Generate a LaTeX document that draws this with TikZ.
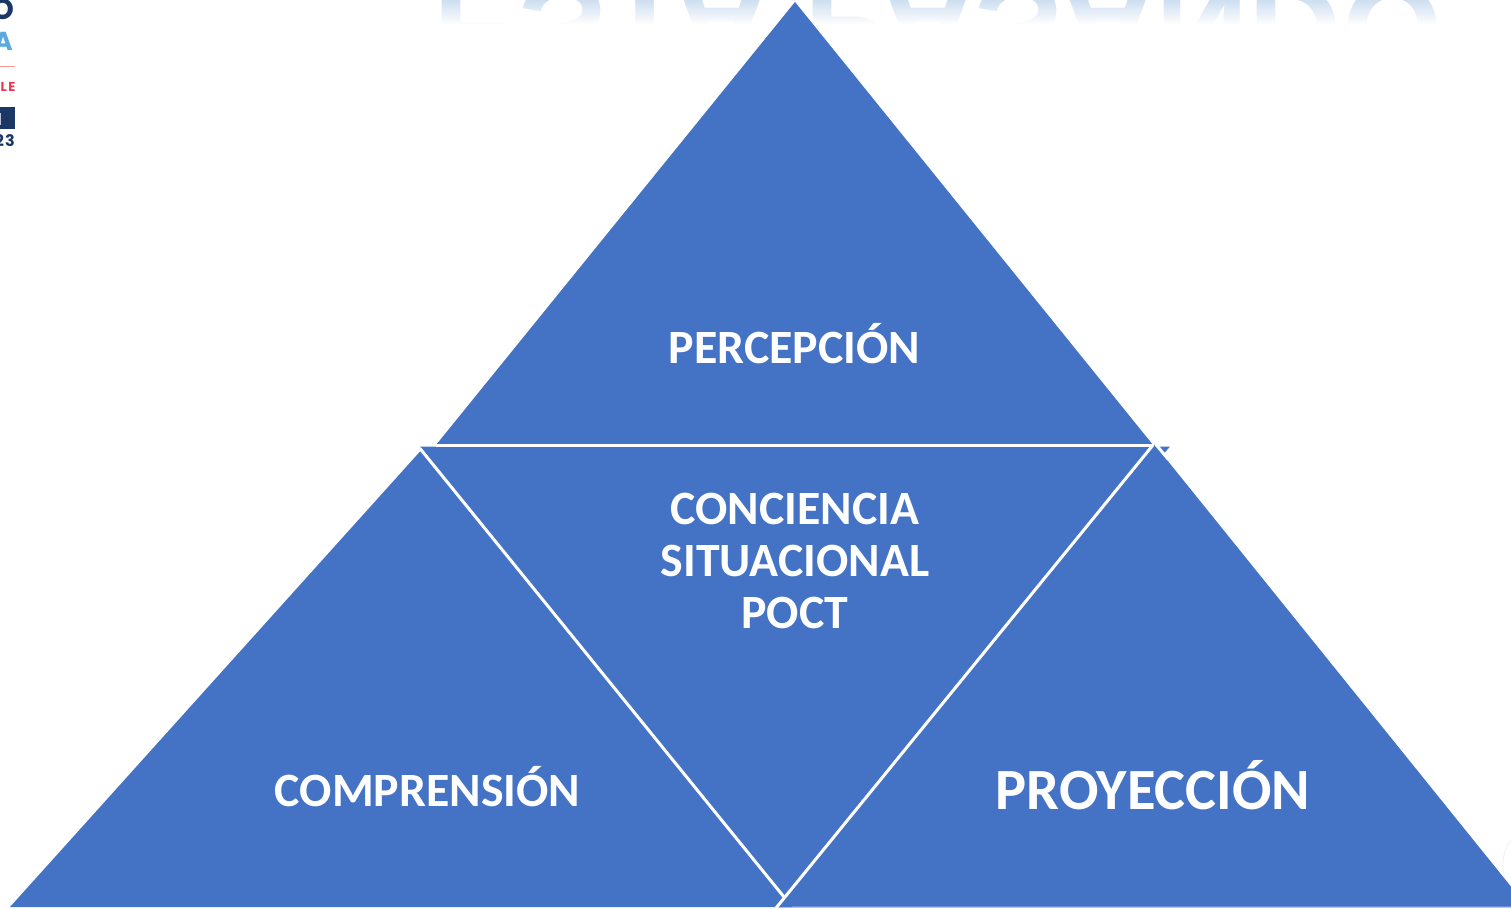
\documentclass[tikz,border=0pt]{standalone}
\usepackage{fontspec}
\setmainfont{Carlito}
\newfontfamily\ghostfont{Liberation Sans}
\newfontfamily\logofont{Poppins}
\definecolor{triblue}{HTML}{4472C4}
\definecolor{ghostblue}{HTML}{CBDDF1}
\definecolor{logonavy}{HTML}{1B3766}
\definecolor{logosky}{HTML}{5AA9E0}
\definecolor{logored}{HTML}{E8384F}
\definecolor{logopink}{HTML}{F49A94}
\tikzset{
  tri/.style={fill=triblue,draw=none},
  gap/.style={draw=white,line width=3pt},
  label44/.style={text=white,font=\fontsize{47.8}{52}\selectfont\bfseries,anchor=base,inner sep=0pt,align=center},
  label52/.style={text=white,font=\fontsize{58.4}{60}\selectfont\bfseries,anchor=base,inner sep=0pt},
  logotext/.style={inner sep=0pt,anchor=base east,font=\logofont\bfseries}
}
\begin{document}
\begin{tikzpicture}[x=1pt,y=-1pt]
\useasboundingbox (0,0) rectangle (1511,908);
\begin{scope}
\clip (0,0) rectangle (1511,908);
% ghost reflected title
\node[name=ghost,inner sep=0pt,anchor=base,text=ghostblue,yscale=-1,transform shape,
      font=\ghostfont\bfseries\fontsize{129.5}{130}\selectfont] at (938,-15) {ESTA PASANDO};
\foreach \i in {0,...,12}{
  \pgfmathsetmacro{\op}{min(1,(\i+1)/13)}
  \fill[white,opacity=\op] (420,{\i*2}) rectangle (1470,{\i*2+2.2});
}
\fill[white] (420,26) rectangle (1470,120);
% logo fragments
\node[logotext,text=logonavy,font=\logofont\bfseries\fontsize{29}{29}\selectfont] (logoO) at (14.5,19) {O};
\node[logotext,text=logosky,font=\logofont\bfseries\fontsize{26}{26}\selectfont] (logoA) at (13,50) {A};
\fill[logopink] (0,65.5) rectangle (15,67);
\node[logotext,text=logored,font=\logofont\bfseries\fontsize{13}{13}\selectfont] (logoL) at (15.5,91.5) {L\kern1.5pt E};
\fill[logonavy] (0,107) rectangle (15,129);
\fill[white!70!logonavy] (0,113) rectangle (1,125);
\node[logotext,text=logonavy,font=\logofont\bfseries\fontsize{16}{16}\selectfont] (logoY) at (15,146) {2\kern1pt 3};
% faint arc at right edge
\draw[black!5,line width=1pt] (1511,840) .. controls (1500,855) and (1500,875) .. (1511,890);
% bottom stripe
\fill[triblue!40] (776,906) rectangle (1511,908);
% triangles
\coordinate (midL) at (420,446.5);
\coordinate (midR) at (1170,446.5);
\coordinate (midB) at (784,897);
\coordinate (topA) at (795,2);
\coordinate (topL) at (436,445);
\coordinate (topR) at (1153,445);
\coordinate (leftA) at (420.5,451);
\coordinate (leftL) at (10,907);
\coordinate (leftR) at (792,907);
\coordinate (rightA) at (1154.5,444.5);
\coordinate (rightL) at (776,906.5);
\coordinate (rightR) at (1527,906.5);
\fill[tri] (midL) -- (midR) -- (midB) -- cycle;
\fill[tri] (topA) -- (topR) -- (topL) -- cycle;
\fill[tri] (leftA) -- (leftR) -- (leftL) -- cycle;
\fill[tri] (rightA) -- (rightR) -- (rightL) -- cycle;
% white gaps
\coordinate (gapA) at (1168,459);
\coordinate (gapS) at (1155.5,444);
\coordinate (gapB) at (776,908);
\coordinate (gapL) at (420,448.5);
\draw[gap] (topL) -- (topR);
\draw[gap] (gapL) -- (midB);
\draw[gap] (topR) -- (gapB);
\draw[gap] (gapS) -- (gapA);
\end{scope}
% labels
\node[label44] (percepcion) at (794.5,363) {PERCEPCIÓN};
\node[label44,anchor=base] (conciencia) at (795,628) {CONCIENCIA\\SITUACIONAL\\POCT};
\node[label44] (comprension) at (427.5,806) {COMPRENSIÓN};
\node[label52] (proyeccion) at (1153,809) {PROYECCIÓN};
\end{tikzpicture}
\end{document}
